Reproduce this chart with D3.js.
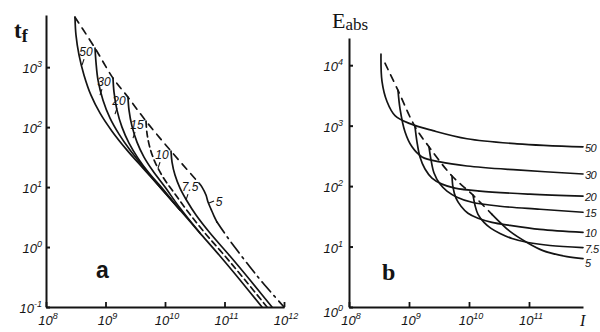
<!DOCTYPE html>
<html>
<head>
<meta charset="utf-8">
<script src="https://cdn.jsdelivr.net/npm/d3@7"></script>
<style>
body { margin: 0; background: #fff; }
svg { display: block; }
.tl { font-family: "Liberation Sans", sans-serif; font-style: italic; font-size: 13px; fill: #141414; }
.cl { font-family: "Liberation Sans", sans-serif; font-style: italic; font-size: 12px; fill: #141414; }
.el { font-family: "Liberation Sans", sans-serif; font-style: italic; font-size: 11px; letter-spacing: -0.6px; fill: #141414; }
.curve { fill: none; stroke: #141414; stroke-width: 1.7; stroke-linecap: round; }
</style>
</head>
<body>
<svg id="chart" width="600" height="332"></svg>
<script>
// all values in decades: [log10 I, log10 value]
const curveLabels = ['50', '30', '20', '15', '10', '7.5', '5'];

// panel a : t_f
const tf50 = [[8.487, 3.833], [8.504, 3.533], [8.555, 3.20], [8.639, 2.867], [8.756, 2.533], [8.908, 2.233],
    [9.109, 1.933], [9.361, 1.617], [9.630, 1.317], [9.916, 1.0], [10.252, 0.617], [10.588, 0.233],
    [10.924, -0.15], [11.261, -0.55], [11.630, -1.0]];
const tf30 = [[8.824, 3.317], [8.840, 3.083], [8.874, 2.783], [8.958, 2.45], [9.076, 2.15], [9.227, 1.883],
    [9.412, 1.617], [9.613, 1.367], [9.832, 1.10], [10.034, 0.867], [10.252, 0.617]];
const tf20 = [[9.126, 2.817], [9.143, 2.583], [9.193, 2.283], [9.277, 2.0], [9.395, 1.733], [9.546, 1.483],
    [9.731, 1.233], [9.95, 0.983], [10.252, 0.617]];
const tf15 = [[9.378, 2.50], [9.395, 2.283], [9.445, 2.017], [9.529, 1.75], [9.647, 1.50], [9.798, 1.267],
    [10.0, 1.0], [10.252, 0.65], [10.588, 0.233]];
const tf10 = [[9.681, 2.10], [9.697, 1.90], [9.748, 1.65], [9.832, 1.417], [9.966, 1.167], [10.168, 0.883],
    [10.403, 0.567], [10.672, 0.233], [11.008, -0.15], [11.345, -0.55], [11.714, -1.0]];
const tf75 = [[10.101, 1.60], [10.118, 1.417], [10.168, 1.20], [10.252, 0.983], [10.370, 0.767], [10.521, 0.533],
    [10.756, 0.233], [11.092, -0.15], [11.429, -0.55], [11.798, -1.0]];
const tf5 = [[10.571, 1.067], [10.622, 1.0], [10.689, 0.867], [10.723, 0.75], [10.773, 0.633], [10.824, 0.517],
    [10.874, 0.417]];
const tf5tail = [[10.874, 0.417], [11.059, 0.15], [11.429, -0.333], [11.647, -0.60], [12.0, -1.0]];
const tfTips = [[8.487, 3.833], [8.824, 3.317], [9.126, 2.817], [9.378, 2.50], [9.681, 2.10], [10.101, 1.60],
    [10.571, 1.067]];

// panel b : E_abs
const e50 = [[8.533, 4.183], [8.55, 3.733], [8.633, 3.40], [8.767, 3.167], [9.017, 3.033], [9.40, 2.917],
    [9.967, 2.783], [10.80, 2.70], [11.90, 2.65]];
const e30 = [[8.817, 3.583], [8.85, 3.283], [8.933, 2.90], [9.05, 2.65], [9.217, 2.483], [9.517, 2.40],
    [9.967, 2.333], [10.80, 2.267], [11.90, 2.20]];
const e20 = [[9.10, 2.983], [9.133, 2.733], [9.183, 2.483], [9.267, 2.283], [9.383, 2.133], [9.55, 2.033],
    [9.767, 1.967], [10.183, 1.917], [11.017, 1.867], [11.90, 1.833]];
const e15 = [[9.333, 2.65], [9.367, 2.433], [9.417, 2.217], [9.517, 2.033], [9.633, 1.917], [9.80, 1.817],
    [10.05, 1.733], [10.517, 1.667], [11.183, 1.617], [11.90, 1.567]];
const e10 = [[9.717, 2.167], [9.733, 1.983], [9.783, 1.80], [9.867, 1.667], [9.983, 1.55], [10.15, 1.467],
    [10.383, 1.40], [10.683, 1.35], [11.183, 1.283], [11.90, 1.233]];
const e75 = [[10.067, 1.85], [10.10, 1.683], [10.15, 1.533], [10.25, 1.40], [10.367, 1.30], [10.517, 1.217],
    [10.717, 1.133], [10.983, 1.067], [11.35, 1.017], [11.90, 0.983]];
const e5 = [[10.383, 1.533], [10.517, 1.40], [10.683, 1.25], [10.967, 1.067], [11.233, 0.933], [11.633, 0.833],
    [11.90, 0.80]];
const eTips = [[8.60, 4.033], [8.817, 3.583], [9.10, 2.983], [9.333, 2.65], [9.717, 2.167], [10.067, 1.85],
    [10.383, 1.533]];

const xTicksA = [8, 9, 10, 11, 12];
const yTicksA = [-1, 0, 1, 2, 3];
const xTicksB = [8, 9, 10, 11];
const yTicksB = [0, 1, 2, 3, 4];

const ink = '#141414';
let svg = d3.select('#chart');

let xA = d3.scaleLog().domain([1e8, 1e12]).range([46, 284]);
let yA = d3.scaleLog().domain([1e-1, Math.pow(10, 3.87)]).range([307, 15]);
let xB = d3.scaleLog().domain([1e8, Math.pow(10, 11.9)]).range([349, 583]);
let yB = d3.scaleLog().domain([1, Math.pow(10, 4.45)]).range([307, 38]);

let p10 = e => Math.pow(10, e);

function drawAxes(x, y, xt, yt, ox, oy){
    svg.append('g')
        .attr('transform', `translate(0,${oy})`)
        .call(d3.axisBottom(x).tickValues(xt.map(p10)).tickSize(-5).tickSizeOuter(0).tickFormat(''))
        .call(g => g.selectAll('path, line').attr('stroke', ink).attr('stroke-width', 1.8));
    svg.append('g')
        .attr('transform', `translate(${ox},0)`)
        .call(d3.axisLeft(y).tickValues(yt.map(p10)).tickSize(-4).tickSizeOuter(0).tickFormat(''))
        .call(g => g.selectAll('path, line').attr('stroke', ink).attr('stroke-width', 2));
}

function powLabel(px, py, exp, anchor){
    let t = svg.append('text').attr('class', 'tl')
        .attr('x', px).attr('y', py).attr('text-anchor', anchor);
    t.append('tspan').text('10');
    t.append('tspan').attr('dy', -6).attr('font-size', 9).text(exp);
}

function drawCurve(x, y, pts, dash){
    let line = d3.line()
        .x(d => x(p10(d[0])))
        .y(d => y(p10(d[1])))
        .curve(d3.curveCatmullRom.alpha(0.5));
    svg.append('path')
        .datum(pts)
        .attr('class', 'curve')
        .attr('d', line)
        .attr('stroke-dasharray', dash || null);
}

// ---------- panel a ----------
drawAxes(xA, yA, xTicksA, yTicksA, 46, 307);
xTicksA.forEach(e => powLabel(xA(p10(e)) + 2, 325, e, 'middle'));
yTicksA.forEach(e => powLabel(42, yA(p10(e)) + 6, e, 'end'));

[tf50, tf30, tf20, tf15, tf75, tf5].forEach(c => drawCurve(xA, yA, c));
drawCurve(xA, yA, tf10, '6,4');
drawCurve(xA, yA, tf5tail, '13,5,2,5');
drawCurve(xA, yA, tfTips, '7,6');

// curve labels: each sits just left of the next tip, leader towards its own curve
curveLabels.forEach((lab, i) => {
    let cx, cy;
    if(i < curveLabels.length - 1){
        cx = xA(p10(tfTips[i + 1][0])) - 9;
        cy = yA(p10(tfTips[i + 1][1])) + 4;
        svg.append('line')
            .attr('x1', cx - 2).attr('y1', cy + 7)
            .attr('x2', cx - 4).attr('y2', cy + 13)
            .attr('stroke', ink).attr('stroke-width', 1.1);
    } else {
        cx = xA(p10(tf5[3][0])) + 11;
        cy = yA(p10(tf5[3][1]));
        svg.append('line')
            .attr('x1', cx - 10).attr('y1', cy + 1)
            .attr('x2', cx - 5).attr('y2', cy - 1)
            .attr('stroke', ink).attr('stroke-width', 1.1);
    }
    svg.append('text').attr('class', 'cl')
        .attr('x', cx).attr('y', cy + 4)
        .attr('text-anchor', 'middle')
        .text(lab);
});

let tf = svg.append('text').attr('x', 14).attr('y', 38)
    .style('font-family', '"Liberation Serif", serif').style('font-weight', 'bold').attr('fill', ink);
tf.append('tspan').attr('font-size', 23).text('t');
tf.append('tspan').attr('font-size', 18).attr('dy', 4).text('f');

svg.append('text').attr('x', 96).attr('y', 278)
    .style('font-family', '"Liberation Sans", sans-serif').style('font-weight', 'bold')
    .attr('font-size', 23).attr('fill', ink).text('a');

// ---------- panel b ----------
drawAxes(xB, yB, xTicksB, yTicksB, 349, 307);
xTicksB.forEach(e => powLabel(xB(p10(e)) + 2, 325, e, 'middle'));
yTicksB.forEach(e => powLabel(343, yB(p10(e)) + (e === 0 ? 10 : 6), e, 'end'));

svg.append('text').attr('x', 580).attr('y', 326)
    .style('font-family', '"Liberation Serif", serif').style('font-style', 'italic')
    .attr('font-size', 16).attr('fill', ink).text('I');

let eCurves = [e50, e30, e20, e15, e10, e75, e5];
eCurves.forEach(c => drawCurve(xB, yB, c));
drawCurve(xB, yB, eTips, '7,6');

// right-hand labels sit at the end of each curve
eCurves.forEach((c, i) => {
    let last = c[c.length - 1];
    svg.append('text').attr('class', 'el')
        .attr('x', xB(p10(last[0])) + 2)
        .attr('y', yB(p10(last[1])) + (i === 6 ? 8 : 5))
        .text(curveLabels[i]);
});

let eabs = svg.append('text').attr('x', 332).attr('y', 28)
    .style('font-family', '"Liberation Serif", serif').attr('fill', ink);
eabs.append('tspan').attr('font-size', 22).text('E');
eabs.append('tspan').attr('font-size', 17).attr('dy', 2).text('abs');

svg.append('text').attr('x', 382).attr('y', 280)
    .style('font-family', '"Liberation Serif", serif').style('font-weight', 'bold')
    .attr('font-size', 24).attr('fill', ink).text('b');
</script>
</body>
</html>
